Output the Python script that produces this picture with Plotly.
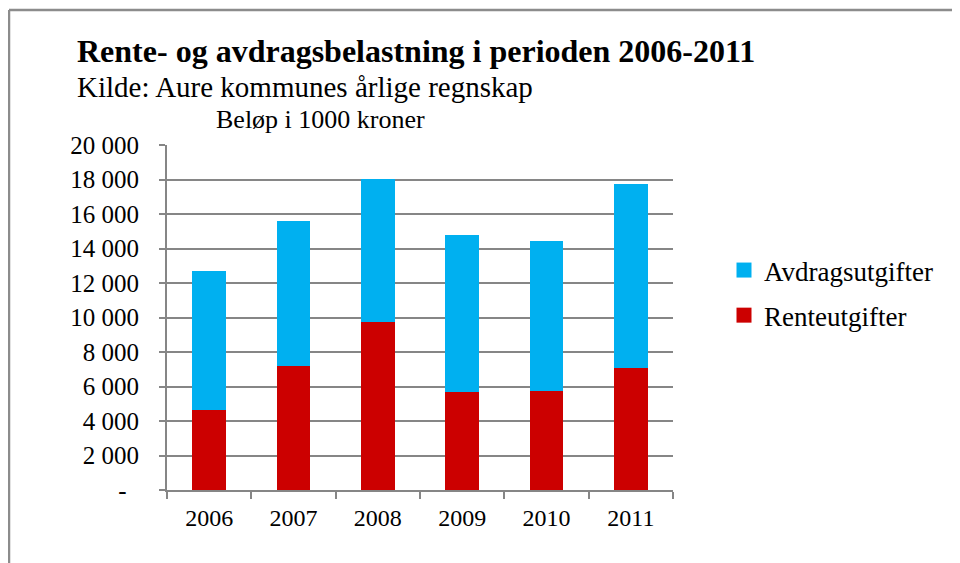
import plotly.graph_objects as go

years = ["2006", "2007", "2008", "2009", "2010", "2011"]
renteutgifter = [4620, 7170, 9730, 5680, 5740, 7070]
avdragsutgifter = [8100, 8430, 8320, 9080, 8710, 10660]
ytick_vals = [0, 2000, 4000, 6000, 8000, 10000, 12000, 14000, 16000, 18000, 20000]
ytick_text = ["-\u2002", "2 000", "4 000", "6 000", "8 000", "10 000", "12 000",
              "14 000", "16 000", "18 000", "20 000"]

# The page body adds an 8px margin, so the figure is 8px smaller and all
# pixel positions below are given in reference-image coordinates minus 8.
OFF = 8
W, H = 960 - OFF, 563 - OFF
L, T = 167 - OFF, 145 - OFF
PR, PB = 673 - OFF, 490 - OFF
R, B = W - PR, H - PB
PW, PH = PR - L, PB - T


def px(x):
    return (x - OFF - L) / PW


def py(y):
    return (PB - (y - OFF)) / PH


FONT = "Liberation Serif, Times New Roman, serif"
GRID = "#868686"
BLUE = "#00B0F0"
RED = "#CC0000"

fig = go.Figure()
fig.add_trace(go.Bar(x=years, y=renteutgifter, name="Renteutgifter",
                     marker=dict(color=RED, line=dict(width=0)),
                     showlegend=False))
fig.add_trace(go.Bar(x=years, y=avdragsutgifter, name="Avdragsutgifter",
                     marker=dict(color=BLUE, line=dict(width=0)),
                     showlegend=False))
# legend entries (square swatches)
fig.add_trace(go.Scatter(x=[None], y=[None], mode="markers", name="Avdragsutgifter",
                         marker=dict(symbol="square", size=15, color=BLUE),
                         legendgroup="a", legendrank=1))
fig.add_trace(go.Scatter(x=[None], y=[None], mode="markers", name="Renteutgifter",
                         marker=dict(symbol="square", size=15, color=RED),
                         legendgroup="r", legendrank=2))

fig.update_layout(
    width=W, height=H,
    margin=dict(l=L, r=R, t=T, b=B, pad=0),
    barmode="stack", bargap=0.6,
    paper_bgcolor="white", plot_bgcolor="white",
    font=dict(family=FONT, color="black", size=24),
    legend=dict(x=px(724), y=py(246), xanchor="left", yanchor="top",
                traceorder="grouped", tracegroupgap=7, itemwidth=30,
                font=dict(size=27, family=FONT), bgcolor="rgba(0,0,0,0)"),
    xaxis=dict(type="category", showline=True, linecolor=GRID, linewidth=2,
               ticks="outside", tickson="boundaries", ticklen=7, tickwidth=2,
               tickcolor=GRID, showgrid=False, ticklabelstandoff=5,
               tickfont=dict(size=24, family=FONT)),
    yaxis=dict(range=[0, 20000], tickvals=ytick_vals, ticktext=ytick_text,
               showline=True, linecolor=GRID, linewidth=2,
               ticks="outside", ticklen=6, tickwidth=2, tickcolor=GRID,
               showgrid=True, gridcolor=GRID, gridwidth=2, zeroline=False,
               ticklabelstandoff=15, tickfont=dict(size=25, family=FONT)),
    showlegend=True,
)

fig.add_annotation(text="<b>Rente- og avdragsbelastning i perioden 2006-2011</b>",
                   xref="paper", yref="paper", x=px(75), y=py(51),
                   xanchor="left", yanchor="middle", showarrow=False,
                   font=dict(size=32, family=FONT))
fig.add_annotation(text="Kilde: Aure kommunes årlige regnskap",
                   xref="paper", yref="paper", x=px(75), y=py(87),
                   xanchor="left", yanchor="middle", showarrow=False,
                   font=dict(size=29, family=FONT))
fig.add_annotation(text="Beløp i 1000 kroner",
                   xref="paper", yref="paper", x=px(214), y=py(120),
                   xanchor="left", yanchor="middle", showarrow=False,
                   font=dict(size=26, family=FONT))

border = dict(color="#8C8C8C", width=2.5)
fig.add_shape(type="line", xref="paper", yref="paper",
              x0=px(9), y0=py(10), x1=px(975), y1=py(10), line=border)
fig.add_shape(type="line", xref="paper", yref="paper",
              x0=px(9), y0=py(10), x1=px(9), y1=py(580), line=border)

fig.write_html("out.html")
